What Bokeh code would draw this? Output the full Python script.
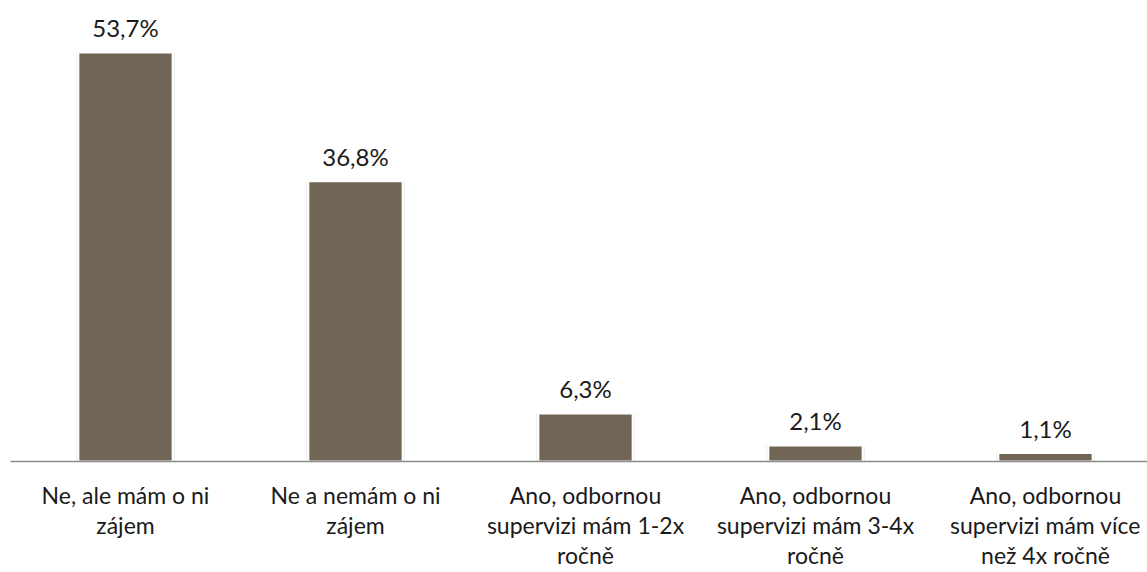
from bokeh.plotting import figure
from bokeh.models import Range1d, ColumnDataSource
from bokeh.core.properties import value
from bokeh.embed import file_html
from bokeh.resources import INLINE

categories = [
    "Ne, ale mám o ni\nzájem",
    "Ne a nemám o ni\nzájem",
    "Ano, odbornou\nsupervizi mám 1-2x\nročně",
    "Ano, odbornou\nsupervizi mám 3-4x\nročně",
    "Ano, odbornou\nsupervizi mám více\nnež 4x ročně",
]
values = [53.7, 36.8, 6.3, 2.1, 1.1]
value_labels = ["53,7%", "36,8%", "6,3%", "2,1%", "1,1%"]

xs = [i + 0.5 for i in range(len(values))]
src = ColumnDataSource(dict(x=xs, top=values, lab=value_labels, cat=categories,
                            zero=[0] * len(values)))

FONT = "Lato"
W, H = 1147, 572
PX_X = 230.0
PX_Y = 7.616
x0 = -10 / PX_X
y_top = 461 / PX_Y
p = figure(width=W, height=H, output_backend="svg", toolbar_location=None,
           x_range=Range1d(x0, x0 + W / PX_X),
           y_range=Range1d(y_top - H / PX_Y, y_top),
           min_border_left=0, min_border_right=0, min_border_top=0, min_border_bottom=0)
p.outline_line_color = None
p.xgrid.visible = False
p.ygrid.visible = False
p.xaxis.visible = False
p.yaxis.visible = False

# faint shadow
p.vbar(x="x", top="top", width=0.43, bottom=0, source=src,
       fill_color="#d8d8d8", fill_alpha=0.35, line_color=None)
p.vbar(x="x", top="top", width=0.41, bottom=0, source=src,
       fill_color="#716656", line_color="white", line_width=2)

# baseline axis line
p.segment(x0=[0], y0=[0], x1=[5], y1=[0], line_color="#8c8c8c", line_width=1.5)

p.text(x="x", y="top", text="lab", source=src, text_align="center",
       text_baseline="middle", y_offset=-25, text_font=value(FONT),
       text_font_size="24px", text_color="#1a1a1a")

p.text(x="x", y="zero", text="cat", source=src, text_align="center",
       text_baseline="top", y_offset=19, text_font=value(FONT),
       text_font_size="23px", text_color="#1a1a1a", text_line_height=1.08)

open("out.html", "w").write(file_html(p, INLINE))
